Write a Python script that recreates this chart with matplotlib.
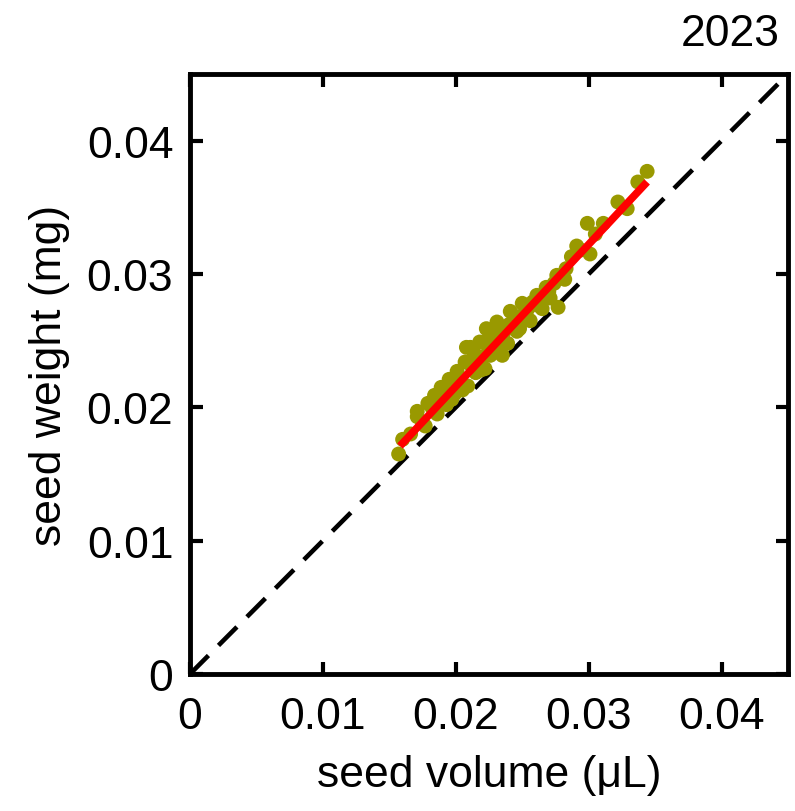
import numpy as np
import matplotlib
matplotlib.use('Agg')
from matplotlib import pyplot as plt

plt.rcParams['font.family'] = ['Liberation Sans', 'DejaVu Sans']

# seed volume (uL) vs seed weight (mg)
volume = [0.0157, 0.0160, 0.0171, 0.0171, 0.0177, 0.0179, 0.0184, 0.0184, 0.0189, 0.0195,
          0.0197, 0.0201, 0.0207, 0.0208, 0.0209, 0.0211, 0.0214, 0.0216, 0.0218, 0.0222,
          0.0222, 0.0223, 0.0226, 0.0229, 0.0231, 0.0233, 0.0235, 0.0241, 0.0248, 0.0250,
          0.0261, 0.0265, 0.0276, 0.0277, 0.0283, 0.0282, 0.0287, 0.0291, 0.0299, 0.0301,
          0.0311, 0.0322, 0.0329, 0.0337, 0.0344,
          0.0166, 0.0175, 0.0182, 0.0187, 0.0192, 0.0199, 0.0203, 0.0205, 0.0212, 0.0219,
          0.0225, 0.0228, 0.0236, 0.0239, 0.0244, 0.0246, 0.0253, 0.0256, 0.0258, 0.0263,
          0.0268, 0.0271, 0.0274, 0.0193, 0.0215, 0.0232, 0.0243, 0.0252, 0.0270,
          0.0186, 0.0194, 0.0204, 0.0213, 0.0220, 0.0227, 0.0234, 0.0240, 0.0247, 0.0255,
          0.0262, 0.0294, 0.0305]
weight = [0.0165, 0.0176, 0.0193, 0.0197, 0.0186, 0.0203, 0.0209, 0.0197, 0.0215, 0.0221,
          0.0206, 0.0227, 0.0234, 0.0245, 0.0216, 0.0245, 0.0240, 0.0236, 0.0249, 0.0249,
          0.0229, 0.0259, 0.0239, 0.0257, 0.0264, 0.0251, 0.0239, 0.0272, 0.0259, 0.0278,
          0.0284, 0.0274, 0.0299, 0.0275, 0.0304, 0.0296, 0.0313, 0.0321, 0.0338, 0.0315,
          0.0338, 0.0354, 0.0349, 0.0369, 0.0377,
          0.0180, 0.0188, 0.0200, 0.0204, 0.0212, 0.0210, 0.0221, 0.0213, 0.0231, 0.0228,
          0.0244, 0.0243, 0.0256, 0.0248, 0.0266, 0.0257, 0.0271, 0.0265, 0.0279, 0.0276,
          0.0290, 0.0282, 0.0293, 0.0202, 0.0226, 0.0244, 0.0260, 0.0268, 0.0287,
          0.0195, 0.0208, 0.0218, 0.0234, 0.0238, 0.0250, 0.0255, 0.0262, 0.0268, 0.0275,
          0.0279, 0.0318, 0.0330]

fit_x = [0.0158, 0.0344]
slope, icpt = 1.065, 0.00027
lim = 0.045
ticks = [0, 0.01, 0.02, 0.03, 0.04]
tick_labels = ['0', '0.01', '0.02', '0.03', '0.04']

fig = plt.figure(figsize=(7.95, 8.12), dpi=100)
ax = fig.add_axes([190 / 795, 137 / 812, 598 / 795, 600 / 812])

ax.plot([0, lim], [0, lim], color='black', lw=3.3, ls=(0, (5.7, 3.1)), zorder=1)
ax.scatter(volume, weight, s=115, color='#999900', edgecolors='none', zorder=2)
fx = np.array(fit_x)
ax.plot(fx, slope * fx + icpt, color='red', lw=5.5, solid_capstyle='butt', zorder=3)

ax.set_xlim(0, lim)
ax.set_ylim(0, lim)
ax.set_xticks(ticks)
ax.set_xticklabels(tick_labels)
ax.set_yticks(ticks)
ax.set_yticklabels(tick_labels)
ax.tick_params(direction='in', length=9, width=3, top=True, right=True, labelsize=32)
ax.tick_params(axis='x', pad=16)
ax.tick_params(axis='y', pad=12)
for s in ax.spines.values():
    s.set_linewidth(3.5)

ax.set_xlabel('seed volume (μL)', fontsize=32, labelpad=12)
ax.set_ylabel('seed weight (mg)', fontsize=32, labelpad=12)
fig.text(780 / 795, 1 - 35 / 812, '2023', fontsize=32, ha='right', va='center')

fig.savefig('out.png', dpi=100)
